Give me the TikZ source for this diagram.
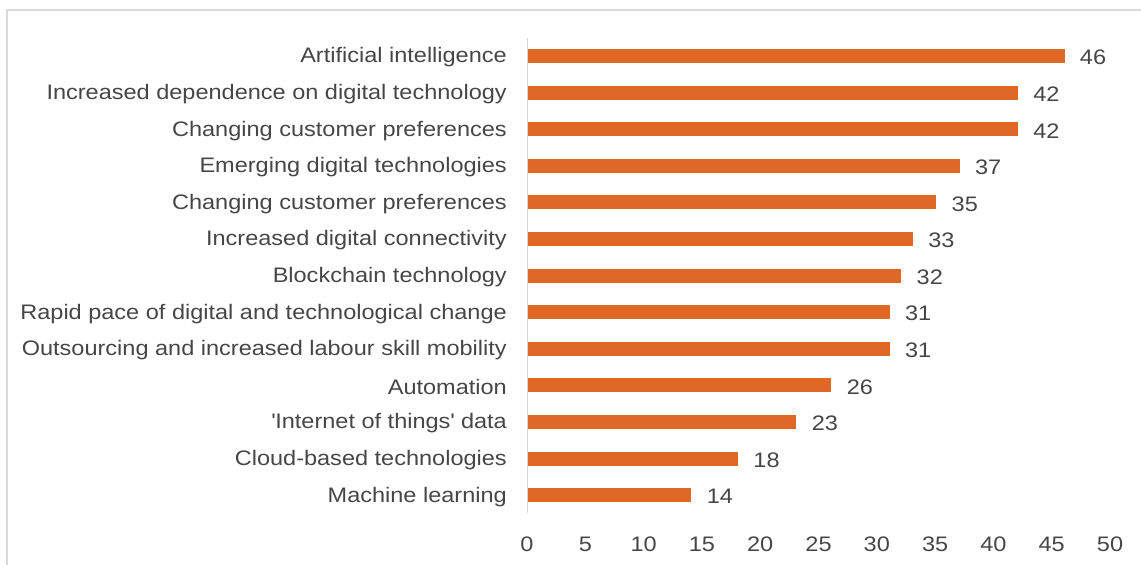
\documentclass[tikz,border=0pt]{standalone}
\usepackage{fontspec}
\setmainfont{Liberation Sans}
\newfontfamily\chartfont[FakeStretch=1.12]{Liberation Sans}
\definecolor{barc}{RGB}{224,104,38}
\definecolor{txt}{RGB}{70,70,70}
\definecolor{framec}{RGB}{218,218,218}
\definecolor{axisc}{RGB}{210,214,222}
\begin{document}
\begin{tikzpicture}[x=1pt,y=-1pt,
  lab/.style={anchor=east, inner sep=0pt, text=txt, font=\chartfont\fontsize{21}{25}\selectfont},
  val/.style={anchor=west, inner sep=0pt, text=txt, font=\chartfont\fontsize{21}{25}\selectfont},
  tick/.style={anchor=center, inner sep=0pt, text=txt, font=\chartfont\fontsize{21}{25}\selectfont},
  barbox/.style={rectangle, fill=barc, draw=none, anchor=west, inner sep=0pt, minimum height=14pt}]
\useasboundingbox (0,0) rectangle (1141,565);
\draw[framec, line width=1.5pt] (7,565) -- (7,10) -- (1141,10);
\coordinate (axtop) at (527,38);
\coordinate (axbot) at (527,513);
\draw[axisc, line width=1pt] (axtop) -- (axbot);
\foreach \v/\t [count=\i] in {46/Artificial intelligence,
  42/Increased dependence on digital technology,
  42/Changing customer preferences,
  37/Emerging digital technologies,
  35/Changing customer preferences,
  33/Increased digital connectivity,
  32/Blockchain technology,
  31/Rapid pace of digital and technological change,
  31/Outsourcing and increased labour skill mobility,
  26/Automation,
  23/\textquotesingle Internet of things\textquotesingle{} data,
  18/Cloud-based technologies,
  14/Machine learning}{
  \pgfmathsetmacro{\yy}{56+(\i-1)*36.6}
  \pgfmathsetmacro{\ww}{\v*11.66}
  \node[lab] (l\i) at (507,\yy+1.5) {\t};
  \node[barbox, minimum width=\ww pt] (b\i) at (528,\yy) {};
  \node[val] (v\i) at ([xshift=15pt,yshift=-1.5pt]b\i.east) {\v};
}
\foreach \k [count=\j] in {0,5,...,50}{
  \pgfmathsetmacro{\xx}{527+\k*11.66}
  \node[tick] (t\j) at (\xx,544) {\k};
}
\end{tikzpicture}
\end{document}
